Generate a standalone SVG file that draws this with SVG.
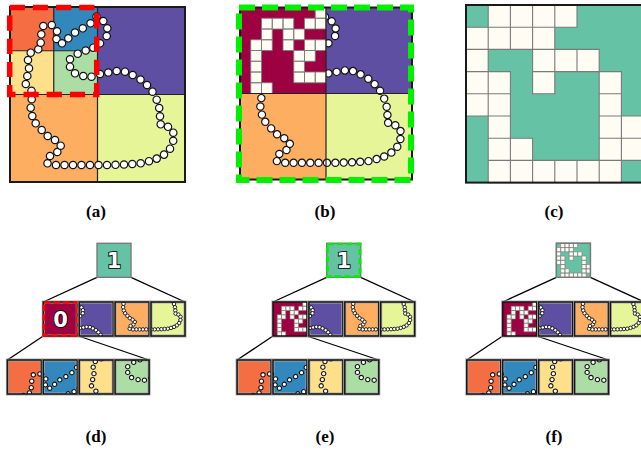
<svg xmlns="http://www.w3.org/2000/svg" xmlns:xlink="http://www.w3.org/1999/xlink" width="641" height="452" viewBox="0 0 641 452">
<style>
.frame{fill:none;stroke:#1a1a1a;stroke-width:2}
.div{stroke:#222;stroke-width:1.2;fill:none}
.halo{stroke:#a8a8a8;stroke-width:3}
.edge{fill:none;stroke:#161616;stroke-width:1.5}
.mL{marker-start:url(#dot);marker-mid:url(#dot);marker-end:url(#dot)}
.mM{marker-start:url(#dotM);marker-mid:url(#dotM);marker-end:url(#dotM)}
.mS{marker-start:url(#dotS);marker-mid:url(#dotS);marker-end:url(#dotS)}
.conn line{stroke:#000;stroke-width:1.3}
.lab{font-family:"Liberation Serif",serif;font-weight:bold;font-size:17px;text-anchor:middle;fill:#000}
.num{font-family:"DejaVu Sans",sans-serif;font-weight:bold;font-size:21px;fill:#fff;stroke:#000;stroke-width:1.7;paint-order:stroke;text-anchor:middle}
.px{fill:#FFFDF3;stroke:#7a7a7a}
.red{fill:none;stroke:#FF0000}
.grn{fill:none;stroke:#00F000}
.root{stroke:#7a7a7a;stroke-width:1.4}
</style>
<defs>
  <marker id="dot" markerUnits="userSpaceOnUse" markerWidth="10" markerHeight="10" refX="0" refY="0" overflow="visible">
    <circle r="3.7" fill="#fff" stroke="#111" stroke-width="1.2"/>
  </marker>
  <marker id="dotM" markerUnits="userSpaceOnUse" markerWidth="10" markerHeight="10" refX="0" refY="0" overflow="visible">
    <circle r="4.5" fill="#fff" stroke="#111" stroke-width="2.3"/>
  </marker>
  <marker id="dotS" markerUnits="userSpaceOnUse" markerWidth="10" markerHeight="10" refX="0" refY="0" overflow="visible">
    <circle r="2.8" fill="#fff" stroke="#111" stroke-width="1.4"/>
  </marker>
  <!-- bead trail, in the coordinates of the left square (10..185, 7..182) -->
  <path id="trail" fill="none" stroke="none" d="M96.5 16.5 L103.3 21 L107.3 28.3 L106.7 36 L100 43.3 L93.3 47.7 L85.7 50.5 L77.7 53.7 L70 59.3 L70 66.7 L75 73.3 L83.3 76 L91.5 76.7 L100 74 L108.3 72.5 L116.7 71 L125 71.7 L132.7 75 L140.5 79.5 L147 85 L152.5 91.7 L156.7 99.7 L159.2 108 L160 116.3 L160.7 124.3 L168 126.8 L173.3 132.7 L173.2 140.8 L170 148.7 L164 154.6 L156.7 158.6 L149 161.2 L140.7 163.3 L132.3 164 L124 164.5 L115.5 164.8 L107 165 L98.5 165 L90 165 L81.5 165 L73 165 L64.5 165 L56 165 L47.5 163.3 L50 156 L57.3 152 L60.7 145.7 L55 140 L47.7 136 L41.7 130 L35.7 123.3 L32.3 116 L30.7 107.7 L31.7 99.2 L31.5 90.8 L25.8 84 L27.3 76 L29 68.3 L28 60 L30.7 52.7 L38.3 49.3 L40.7 42.7 L41.3 34.3 L43.3 26 L51.8 25 L57 31.3 L56.5 39 L62 43.3 L68.3 38.3 L75 32.5 L82.8 28.3 L90.5 23.3"/>
  <clipPath id="cTR"><rect x="97.5" y="7" width="87.5" height="87.5"/></clipPath>
  <clipPath id="cBL"><rect x="10" y="94.5" width="87.5" height="87.5"/></clipPath>
  <clipPath id="cBR"><rect x="97.5" y="94.5" width="87.5" height="87.5"/></clipPath>
  <clipPath id="cTLTL"><rect x="10" y="7" width="43.75" height="43.75"/></clipPath>
  <clipPath id="cTLTR"><rect x="53.75" y="7" width="43.75" height="43.75"/></clipPath>
  <clipPath id="cTLBL"><rect x="10" y="50.75" width="43.75" height="43.75"/></clipPath>
  <clipPath id="cTLBR"><rect x="53.75" y="50.75" width="43.75" height="43.75"/></clipPath>
  <!-- 8x8 raster of the trail inside the top-left quadrant, unit cells -->
  <g id="bitsB">
    <rect width="8" height="8" fill="#9E0142" stroke="none"/>
    <path class="px" d="M7 0h1v1h-1z M2 1h1v1h-1z M3 1h1v1h-1z M4 1h1v1h-1z M6 1h1v1h-1z M7 1h1v1h-1z M2 2h1v1h-1z M4 2h1v1h-1z M5 2h1v1h-1z M1 3h1v1h-1z M2 3h1v1h-1z M4 3h1v1h-1z M6 3h1v1h-1z M7 3h1v1h-1z M1 4h1v1h-1z M5 4h1v1h-1z M6 4h1v1h-1z M1 5h1v1h-1z M5 5h1v1h-1z M1 6h1v1h-1z M5 6h1v1h-1z M6 6h1v1h-1z M7 6h1v1h-1z M1 7h1v1h-1z M2 7h1v1h-1z"/>
  </g>
  <!-- 8x8 grid on teal, unit cells -->
  <g id="bitsC">
    <rect width="8" height="8" fill="#66C2A5" stroke="none"/>
    <path class="px" d="M1 0h1v1h-1z M2 0h1v1h-1z M3 0h1v1h-1z M4 0h1v1h-1z M0 1h1v1h-1z M1 1h1v1h-1z M2 1h1v1h-1z M3 1h1v1h-1z M0 2h1v1h-1z M3 2h1v1h-1z M4 2h1v1h-1z M5 2h1v1h-1z M0 3h1v1h-1z M1 3h1v1h-1z M3 3h1v1h-1z M6 3h1v1h-1z M0 4h1v1h-1z M1 4h1v1h-1z M6 4h1v1h-1z M1 5h1v1h-1z M6 5h1v1h-1z M7 5h1v1h-1z M1 6h1v1h-1z M2 6h1v1h-1z M6 6h1v1h-1z M7 6h1v1h-1z M1 7h1v1h-1z M2 7h1v1h-1z M3 7h1v1h-1z M4 7h1v1h-1z M5 7h1v1h-1z M6 7h1v1h-1z"/>
  </g>
</defs>

<rect width="641" height="452" fill="#fff"/>

<!-- (a) quadtree partition of the trail -->
<g id="panel-a">
  <rect x="10" y="7" width="43.75" height="43.75" fill="#F46D43"/>
  <rect x="53.75" y="7" width="43.75" height="43.75" fill="#3288BD"/>
  <rect x="10" y="50.75" width="43.75" height="43.75" fill="#FEE08B"/>
  <rect x="53.75" y="50.75" width="43.75" height="43.75" fill="#ABDDA4"/>
  <rect x="97.5" y="7" width="87.5" height="87.5" fill="#5E4FA2"/>
  <rect x="10" y="94.5" width="87.5" height="87.5" fill="#FDAE61"/>
  <rect x="97.5" y="94.5" width="87.5" height="87.5" fill="#E6F598"/>
  <path class="div" d="M97.5 7V182 M10 94.5H185 M53.75 7V94.5 M10 50.75H97.5"/>
  <rect class="frame" x="10" y="7" width="175" height="175"/>
  <use href="#trail" class="mL"/>
  <rect class="red" x="9.7" y="7.5" width="87" height="87" stroke-width="5.5" stroke-dasharray="15.2 8"/>
</g>

<!-- (b) top-left quadrant rasterised -->
<g id="panel-b">
  <rect x="326" y="7.5" width="86" height="86" fill="#5E4FA2"/>
  <rect x="240" y="93.5" width="86" height="86" fill="#FDAE61"/>
  <rect x="326" y="93.5" width="86" height="86" fill="#E6F598"/>
  <use href="#trail" class="mL" transform="translate(240 7.5) scale(0.98286) translate(-10 -7)"/>
  <use href="#bitsB" transform="translate(240 7.5) scale(10.75)" stroke-width="0.08"/>
  <path class="div" d="M326 7.5V179.5 M240 93.5H412"/>
  <rect class="frame" x="240" y="7.5" width="172" height="172"/>
  <rect class="grn" x="239" y="7.5" width="172" height="172.5" stroke-width="6" stroke-dasharray="16 7"/>
</g>

<!-- (c) 8x8 occupancy grid -->
<g id="panel-c">
  <use href="#bitsC" transform="translate(466 5) scale(22.2)" stroke-width="0.05"/>
  <rect class="frame" x="466" y="5" width="177.6" height="177.6"/>
</g>

<g id="labels-top">
  <text class="lab" x="96" y="217">(a)</text>
  <text class="lab" x="325" y="217">(b)</text>
  <text class="lab" x="554" y="217">(c)</text>
</g>

<!-- tree connectors -->
<g id="connectors" class="conn">
  <line x1="97" y1="277.3" x2="43.3" y2="302"/>
  <line x1="131" y1="277.3" x2="185" y2="302"/>
  <line x1="43.3" y1="336" x2="7.4" y2="360"/>
  <line x1="78.5" y1="336" x2="149.1" y2="360"/>
  <line x1="326.7" y1="277.3" x2="273" y2="302"/>
  <line x1="360.7" y1="277.3" x2="414.7" y2="302"/>
  <line x1="273" y1="336" x2="237.1" y2="360"/>
  <line x1="307" y1="336" x2="378.8" y2="360"/>
  <line x1="556.4" y1="277.3" x2="502.7" y2="302"/>
  <line x1="590.4" y1="277.3" x2="644.4" y2="302"/>
  <line x1="502.7" y1="336" x2="466.8" y2="360"/>
  <line x1="536.7" y1="336" x2="608.5" y2="360"/>
</g>

<!-- (d) tree, top-left child marked as a bit -->
<g id="panel-d">
  <g id="d-root">
    <rect class="root" x="97" y="243.3" width="34" height="34" fill="#66C2A5"/>
    <text class="num" x="114" y="268">1</text>
  </g>
  <g id="d-tl">
    <rect class="halo" x="43.3" y="302" width="34" height="34" fill="#9E0142"/>
    <rect class="edge" x="43.3" y="302" width="34" height="34"/>
    <rect class="red" x="44" y="302.5" width="33.4" height="33" stroke-width="2.7" stroke-dasharray="6.5 3.05"/>
    <text class="num" x="60.5" y="326.8">0</text>
  </g>
  <g id="d-tr">
    <rect class="halo" x="79.2" y="302" width="34" height="34" fill="#5E4FA2"/>
    <use href="#trail" class="mM" clip-path="url(#cTR)" transform="translate(79.2 302) scale(0.3886) translate(-97.5 -7)"/>
    <rect class="edge" x="79.2" y="302" width="34" height="34"/>
  </g>
  <g id="d-bl">
    <rect class="halo" x="115.1" y="302" width="34" height="34" fill="#FDAE61"/>
    <use href="#trail" class="mM" clip-path="url(#cBL)" transform="translate(115.1 302) scale(0.3886) translate(-10 -94.5)"/>
    <rect class="edge" x="115.1" y="302" width="34" height="34"/>
  </g>
  <g id="d-br">
    <rect class="halo" x="151" y="302" width="34" height="34" fill="#E6F598"/>
    <use href="#trail" class="mM" clip-path="url(#cBR)" transform="translate(151 302) scale(0.3886) translate(-97.5 -94.5)"/>
    <rect class="edge" x="151" y="302" width="34" height="34"/>
  </g>
  <g id="d-tl-tl">
    <rect class="halo" x="7.4" y="360" width="34" height="34" fill="#F46D43"/>
    <use href="#trail" class="mS" clip-path="url(#cTLTL)" transform="translate(7.4 360) scale(0.7771) translate(-10 -7)"/>
    <rect class="edge" x="7.4" y="360" width="34" height="34"/>
  </g>
  <g id="d-tl-tr">
    <rect class="halo" x="43.3" y="360" width="34" height="34" fill="#3288BD"/>
    <use href="#trail" class="mS" clip-path="url(#cTLTR)" transform="translate(43.3 360) scale(0.7771) translate(-53.75 -7)"/>
    <rect class="edge" x="43.3" y="360" width="34" height="34"/>
  </g>
  <g id="d-tl-bl">
    <rect class="halo" x="79.2" y="360" width="34" height="34" fill="#FEE08B"/>
    <use href="#trail" class="mS" clip-path="url(#cTLBL)" transform="translate(79.2 360) scale(0.7771) translate(-10 -50.75)"/>
    <rect class="edge" x="79.2" y="360" width="34" height="34"/>
  </g>
  <g id="d-tl-br">
    <rect class="halo" x="115.1" y="360" width="34" height="34" fill="#ABDDA4"/>
    <use href="#trail" class="mS" clip-path="url(#cTLBR)" transform="translate(115.1 360) scale(0.7771) translate(-53.75 -50.75)"/>
    <rect class="edge" x="115.1" y="360" width="34" height="34"/>
  </g>
</g>

<!-- (e) tree, top-left child rasterised, root marked -->
<g id="panel-e">
  <g id="e-root">
    <rect class="root" x="326.7" y="243.3" width="34" height="34" fill="#66C2A5"/>
    <rect class="grn" x="327.4" y="244" width="32.6" height="32.6" stroke-width="2.7" stroke-dasharray="6.3 3.03"/>
    <text class="num" x="343.7" y="268">1</text>
  </g>
  <g id="e-tl">
    <rect class="halo" x="273" y="302" width="34" height="34" fill="#9E0142"/>
    <use href="#bitsB" transform="translate(273 302) scale(4.25)" stroke-width="0.14"/>
    <rect class="edge" x="273" y="302" width="34" height="34"/>
  </g>
  <g id="e-tr">
    <rect class="halo" x="308.9" y="302" width="34" height="34" fill="#5E4FA2"/>
    <use href="#trail" class="mM" clip-path="url(#cTR)" transform="translate(308.9 302) scale(0.3886) translate(-97.5 -7)"/>
    <rect class="edge" x="308.9" y="302" width="34" height="34"/>
  </g>
  <g id="e-bl">
    <rect class="halo" x="344.8" y="302" width="34" height="34" fill="#FDAE61"/>
    <use href="#trail" class="mM" clip-path="url(#cBL)" transform="translate(344.8 302) scale(0.3886) translate(-10 -94.5)"/>
    <rect class="edge" x="344.8" y="302" width="34" height="34"/>
  </g>
  <g id="e-br">
    <rect class="halo" x="380.7" y="302" width="34" height="34" fill="#E6F598"/>
    <use href="#trail" class="mM" clip-path="url(#cBR)" transform="translate(380.7 302) scale(0.3886) translate(-97.5 -94.5)"/>
    <rect class="edge" x="380.7" y="302" width="34" height="34"/>
  </g>
  <g id="e-tl-tl">
    <rect class="halo" x="237.1" y="360" width="34" height="34" fill="#F46D43"/>
    <use href="#trail" class="mS" clip-path="url(#cTLTL)" transform="translate(237.1 360) scale(0.7771) translate(-10 -7)"/>
    <rect class="edge" x="237.1" y="360" width="34" height="34"/>
  </g>
  <g id="e-tl-tr">
    <rect class="halo" x="273" y="360" width="34" height="34" fill="#3288BD"/>
    <use href="#trail" class="mS" clip-path="url(#cTLTR)" transform="translate(273 360) scale(0.7771) translate(-53.75 -7)"/>
    <rect class="edge" x="273" y="360" width="34" height="34"/>
  </g>
  <g id="e-tl-bl">
    <rect class="halo" x="308.9" y="360" width="34" height="34" fill="#FEE08B"/>
    <use href="#trail" class="mS" clip-path="url(#cTLBL)" transform="translate(308.9 360) scale(0.7771) translate(-10 -50.75)"/>
    <rect class="edge" x="308.9" y="360" width="34" height="34"/>
  </g>
  <g id="e-tl-br">
    <rect class="halo" x="344.8" y="360" width="34" height="34" fill="#ABDDA4"/>
    <use href="#trail" class="mS" clip-path="url(#cTLBR)" transform="translate(344.8 360) scale(0.7771) translate(-53.75 -50.75)"/>
    <rect class="edge" x="344.8" y="360" width="34" height="34"/>
  </g>
</g>

<!-- (f) tree, root rasterised -->
<g id="panel-f">
  <g id="f-root">
    <rect class="root" x="556.4" y="243.3" width="34" height="34" fill="#66C2A5"/>
    <use href="#bitsC" transform="translate(556.4 243.3) scale(4.25)" stroke-width="0.14"/>
    <rect x="556.4" y="243.3" width="34" height="34" fill="none" stroke="#7a7a7a" stroke-width="1.4"/>
  </g>
  <g id="f-tl">
    <rect class="halo" x="502.7" y="302" width="34" height="34" fill="#9E0142"/>
    <use href="#bitsB" transform="translate(502.7 302) scale(4.25)" stroke-width="0.14"/>
    <rect class="edge" x="502.7" y="302" width="34" height="34"/>
  </g>
  <g id="f-tr">
    <rect class="halo" x="538.6" y="302" width="34" height="34" fill="#5E4FA2"/>
    <use href="#trail" class="mM" clip-path="url(#cTR)" transform="translate(538.6 302) scale(0.3886) translate(-97.5 -7)"/>
    <rect class="edge" x="538.6" y="302" width="34" height="34"/>
  </g>
  <g id="f-bl">
    <rect class="halo" x="574.5" y="302" width="34" height="34" fill="#FDAE61"/>
    <use href="#trail" class="mM" clip-path="url(#cBL)" transform="translate(574.5 302) scale(0.3886) translate(-10 -94.5)"/>
    <rect class="edge" x="574.5" y="302" width="34" height="34"/>
  </g>
  <g id="f-br">
    <rect class="halo" x="610.4" y="302" width="34" height="34" fill="#E6F598"/>
    <use href="#trail" class="mM" clip-path="url(#cBR)" transform="translate(610.4 302) scale(0.3886) translate(-97.5 -94.5)"/>
    <rect class="edge" x="610.4" y="302" width="34" height="34"/>
  </g>
  <g id="f-tl-tl">
    <rect class="halo" x="466.8" y="360" width="34" height="34" fill="#F46D43"/>
    <use href="#trail" class="mS" clip-path="url(#cTLTL)" transform="translate(466.8 360) scale(0.7771) translate(-10 -7)"/>
    <rect class="edge" x="466.8" y="360" width="34" height="34"/>
  </g>
  <g id="f-tl-tr">
    <rect class="halo" x="502.7" y="360" width="34" height="34" fill="#3288BD"/>
    <use href="#trail" class="mS" clip-path="url(#cTLTR)" transform="translate(502.7 360) scale(0.7771) translate(-53.75 -7)"/>
    <rect class="edge" x="502.7" y="360" width="34" height="34"/>
  </g>
  <g id="f-tl-bl">
    <rect class="halo" x="538.6" y="360" width="34" height="34" fill="#FEE08B"/>
    <use href="#trail" class="mS" clip-path="url(#cTLBL)" transform="translate(538.6 360) scale(0.7771) translate(-10 -50.75)"/>
    <rect class="edge" x="538.6" y="360" width="34" height="34"/>
  </g>
  <g id="f-tl-br">
    <rect class="halo" x="574.5" y="360" width="34" height="34" fill="#ABDDA4"/>
    <use href="#trail" class="mS" clip-path="url(#cTLBR)" transform="translate(574.5 360) scale(0.7771) translate(-53.75 -50.75)"/>
    <rect class="edge" x="574.5" y="360" width="34" height="34"/>
  </g>
</g>

<g id="labels-bottom">
  <text class="lab" x="96" y="442">(d)</text>
  <text class="lab" x="325" y="442">(e)</text>
  <text class="lab" x="554" y="442">(f)</text>
</g>
</svg>
